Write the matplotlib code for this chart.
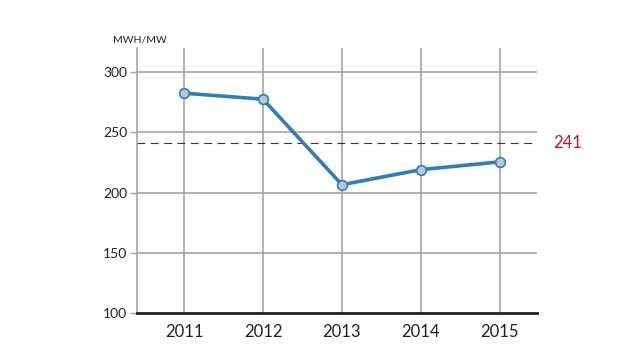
import matplotlib
matplotlib.use("Agg")
import matplotlib.pyplot as plt

years = [2011, 2012, 2013, 2014, 2015]
values = [282.5, 277.5, 206.5, 219, 225.5]
reference = 241
yticks = [100, 150, 200, 250, 300]
unit_label = "MWH/MW"

plt.rcParams['font.family'] = ['Lato', 'DejaVu Sans']

fig = plt.figure(figsize=(6.4, 3.6), dpi=100)
ax = fig.add_axes([137/640, 1-313/360, 400/640, 265/360])

ax.set_xlim(2010.405, 2015.47)
ax.set_ylim(100, 320)

for y in yticks[1:]:
    ax.axhline(y, color='#a6a6a6', lw=1.2, zorder=1)
for x in years:
    ax.axvline(x, color='#a6a6a6', lw=1.2, zorder=1)

ax.axhline(reference, color='#333333', lw=0.8, ls=(0, (7, 5)), zorder=2)
ax.text(1.04, (reference - 100) / 220, str(reference), transform=ax.transAxes,
        color='#c8102e', fontsize=12, va='center', ha='left')

ax.plot(years, values, color='#2e7ebb', lw=2.6, zorder=3,
        marker='o', markersize=7, markerfacecolor='#b5c7d8',
        markeredgecolor='#2e7ebb', markeredgewidth=1.2)

for s in ['top', 'right']:
    ax.spines[s].set_visible(False)
ax.spines['left'].set_color('#a6a6a6')
ax.spines['left'].set_linewidth(1.2)
ax.spines['bottom'].set_color('#222222')
ax.spines['bottom'].set_linewidth(2)

ax.set_yticks(yticks)
ax.set_yticklabels([str(v) for v in yticks], fontsize=10, color='#222222')
ax.set_xticks(years)
ax.set_xticklabels([str(y) for y in years], fontsize=12, color='#222222')
ax.tick_params(axis='y', length=5, width=1, color='#a6a6a6', pad=2)
ax.tick_params(axis='x', length=0, pad=8)

fig.text(113/640, 1-40/360, unit_label, fontsize=7.5, color='#222222', va='center', ha='left')

fig.savefig('out.png', dpi=100)
